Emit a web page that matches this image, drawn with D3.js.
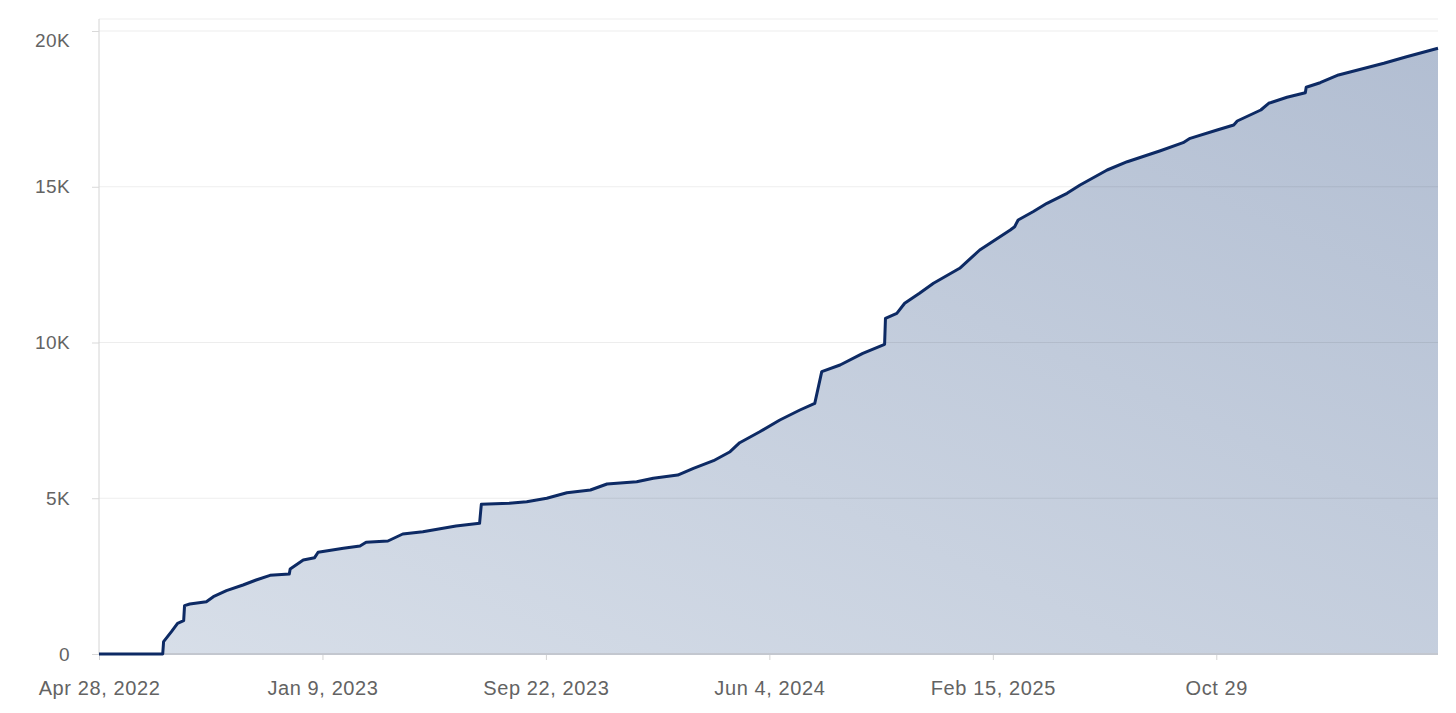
<!DOCTYPE html>
<html>
<head>
<meta charset="utf-8">
<script src="https://cdn.jsdelivr.net/npm/d3@7"></script>
<style>
  html, body { margin: 0; padding: 0; background: #fff; }
  .canvas { width: 1456px; height: 713px; }
</style>
</head>
<body>
<div class="canvas"></div>
<script>
// dates of the readings (cumulative count)
const dates = [
  "2022-04-28", "2022-07-10", "2022-07-11", "2022-07-20", "2022-07-27",
  "2022-08-03", "2022-08-04", "2022-08-10", "2022-08-29", "2022-09-06",
  "2022-09-21", "2022-10-10", "2022-10-25", "2022-11-10", "2022-12-02",
  "2022-12-03", "2022-12-18", "2022-12-31", "2023-01-04", "2023-02-02",
  "2023-02-21", "2023-02-28", "2023-03-25", "2023-04-11", "2023-05-04",
  "2023-06-11", "2023-07-08", "2023-07-10", "2023-08-11", "2023-08-31",
  "2023-09-23", "2023-10-16", "2023-11-12", "2023-12-01", "2024-01-04",
  "2024-01-23", "2024-02-20", "2024-03-09", "2024-04-01", "2024-04-20",
  "2024-05-01", "2024-05-24", "2024-06-16", "2024-07-09", "2024-07-26",
  "2024-08-03", "2024-08-24", "2024-09-19", "2024-10-14", "2024-10-15",
  "2024-10-28", "2024-11-06", "2024-11-23", "2024-12-09", "2025-01-08",
  "2025-01-31", "2025-03-07", "2025-03-12", "2025-03-16", "2025-04-02",
  "2025-04-18", "2025-05-11", "2025-05-26", "2025-06-26", "2025-07-19",
  "2025-08-26", "2025-09-21", "2025-09-29", "2025-10-30", "2025-11-18",
  "2025-11-22", "2025-12-19", "2025-12-28", "2026-01-18", "2026-02-08",
  "2026-02-09", "2026-02-25", "2026-03-18", "2026-05-09", "2026-06-04",
  "2026-07-10"
]

const values = [
  0, 0, 395, 716, 986,
  1069, 1551, 1605, 1679, 1840,
  2032, 2215, 2376, 2526, 2568,
  2729, 3018, 3092, 3265, 3393,
  3467, 3586, 3628, 3852, 3926,
  4109, 4196, 4806, 4838, 4889,
  4998, 5178, 5265, 5458, 5531,
  5641, 5746, 5961, 6205, 6494,
  6783, 7136, 7512, 7833, 8048,
  9063, 9278, 9653, 9942, 10777,
  10937, 11259, 11579, 11900, 12382,
  12970, 13612, 13718, 13933, 14199,
  14469, 14790, 15056, 15538, 15804,
  16157, 16414, 16555, 16822, 16982,
  17111, 17464, 17679, 17872, 18019,
  18193, 18340, 18588, 18963, 19175,
  19445
]

// axis ticks
const xTickDates = ["2022-04-28", "2023-01-09", "2023-09-22", "2024-06-04", "2025-02-15", "2025-10-29"]
const xTickLabels = ["Apr 28, 2022", "Jan 9, 2023", "Sep 22, 2023", "Jun 4, 2024", "Feb 15, 2025", "Oct 29"]
const yTickValues = [0, 5000, 10000, 15000, 20000]
const yTickLabels = ["0", "5K", "10K", "15K", "20K"]

/**
 * Dimension setup
 */
const dims = { width: 1456, height: 713 }
const margin = { top: 19, right: 18, bottom: 59, left: 99 }
const parse = d3.timeParse("%Y-%m-%d")

const data = dates.map((d, i) => ({ date: parse(d), value: values[i] }))

const svg = d3.select(".canvas")
    .append("svg")
    .attr("width", dims.width)
    .attr("height", dims.height)
    .style("font-family", "Inter, 'Noto Sans', sans-serif")

/**
 * Scales
 */
const x = d3.scaleTime()
    .domain([parse("2022-04-28"), parse("2026-07-10")])
    .range([margin.left, dims.width - margin.right])

const y = d3.scaleLinear()
    .domain([0, 20000])
    .range([dims.height - margin.bottom, 31])

/**
 * Fill gradient
 */
const defs = svg.append("defs")
const grad = defs.append("linearGradient")
    .attr("id", "areaFill")
    .attr("x1", 0).attr("y1", 1)
    .attr("x2", 1).attr("y2", 0)
grad.append("stop").attr("offset", "0%").attr("stop-color", "#d8dfe9")
grad.append("stop").attr("offset", "100%").attr("stop-color", "#b2bed2")

/**
 * Area
 */
const area = d3.area()
    .x(d => x(d.date))
    .y0(y(0))
    .y1(d => y(d.value))

const line = d3.line()
    .x(d => x(d.date))
    .y(d => y(d.value))

svg.append("path")
    .datum(data)
    .attr("d", area)
    .attr("fill", "url(#areaFill)")

// gridlines drawn over the fill (subtle)
svg.append("g")
    .selectAll("line")
    .data(yTickValues.filter(v => v > 0))
    .enter()
    .append("line")
    .attr("x1", margin.left)
    .attr("x2", dims.width - margin.right)
    .attr("y1", d => y(d))
    .attr("y2", d => y(d))
    .attr("stroke", "#000")
    .attr("stroke-opacity", 0.07)

// top frame line
svg.append("line")
    .attr("x1", margin.left).attr("x2", dims.width - margin.right)
    .attr("y1", margin.top).attr("y2", margin.top)
    .attr("stroke", "#000").attr("stroke-opacity", 0.07)

/**
 * Axes
 */
const yAxis = d3.axisLeft(y)
    .tickValues(yTickValues)
    .tickSize(7)
    .tickPadding(22)
    .tickFormat((d, i) => yTickLabels[i])

const yG = svg.append("g")
    .attr("transform", `translate(${margin.left},0)`)
    .call(yAxis)
yG.select(".domain")
    .attr("d", `M0,${margin.top}V${y(0)}`)
    .attr("stroke", "#d4d4d4")
yG.selectAll(".tick line").attr("stroke", "#d9d9d9")
yG.selectAll(".tick text")
    .attr("fill", "#636363")
    .style("font-size", "19px")
    .style("letter-spacing", "0.4px")
    .attr("dy", (d) => d === 20000 ? "0.82em" : "0.32em")

const xAxis = d3.axisBottom(x)
    .tickValues(xTickDates.map(parse))
    .tickSize(6)
    .tickPadding(21)
    .tickFormat((d, i) => xTickLabels[i])

const xG = svg.append("g")
    .attr("transform", `translate(0,${y(0)})`)
    .call(xAxis)
xG.select(".domain").remove()
xG.selectAll(".tick line").attr("stroke", "#d4d4d4")
xG.selectAll(".tick text")
    .attr("fill", "#636363")
    .style("font-size", "20px")
    .style("letter-spacing", "0.6px")

// baseline (under the data line)
svg.append("line")
    .attr("x1", margin.left).attr("x2", dims.width - margin.right)
    .attr("y1", y(0)).attr("y2", y(0))
    .attr("stroke", "#c3c7cf")
    .attr("stroke-width", 2)

/**
 * Data line
 */
svg.append("path")
    .datum(data)
    .attr("d", line)
    .attr("fill", "none")
    .attr("stroke", "#0d2a64")
    .attr("stroke-width", 3)
    .attr("stroke-linejoin", "round")
</script>
</body>
</html>
